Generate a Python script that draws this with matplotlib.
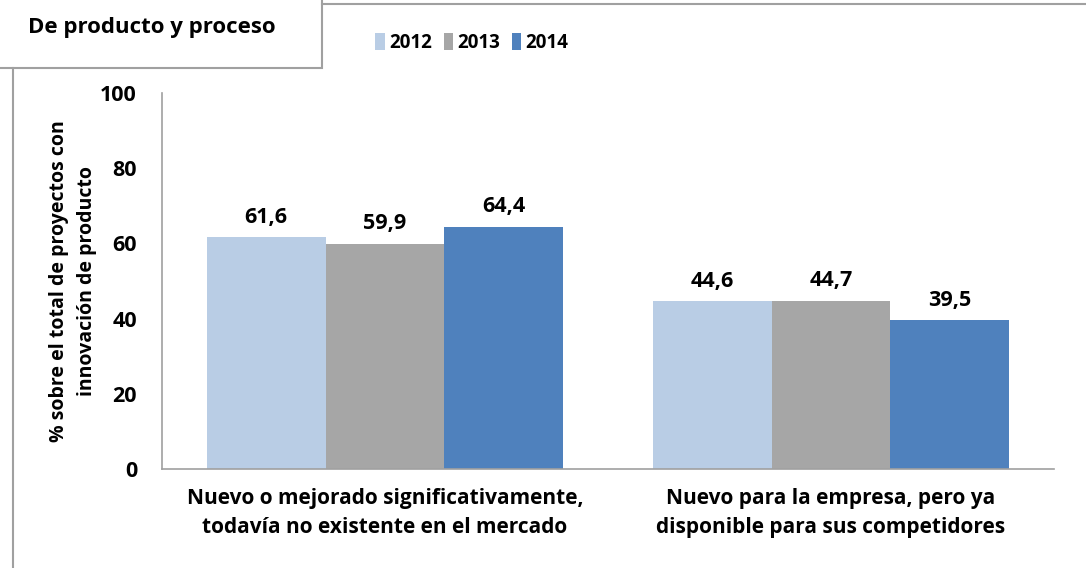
import numpy as np
import matplotlib.pyplot as plt
from matplotlib.patches import Rectangle
from matplotlib.lines import Line2D

categories = ['Nuevo o mejorado significativamente,\ntodavía no existente en el mercado',
              'Nuevo para la empresa, pero ya\ndisponible para sus competidores']
years = ['2012', '2013', '2014']
v2012 = [61.6, 44.6]
v2013 = [59.9, 44.7]
v2014 = [64.4, 39.5]
colors = ['#b9cde5', '#a6a6a6', '#4f81bd']

plt.rcParams['font.family'] = ['Open Sans', 'DejaVu Sans']
plt.rcParams['font.weight'] = 'bold'

fig = plt.figure(figsize=(10.86, 5.68), dpi=100)
ax = fig.add_axes([162/1086, 1-469/568, (1054-162)/1086, (469-93)/568])

x = np.arange(len(categories))
w = 0.8/3
for i, (vals, yr, c) in enumerate(zip([v2012, v2013, v2014], years, colors)):
    bars = ax.bar(x + (i-1)*w, vals, w, color=c, label=yr)
    for b, v in zip(bars, vals):
        ax.annotate(('%.1f' % v).replace('.', ','), (b.get_x()+b.get_width()/2, v),
                    xytext=(0, 7), textcoords='offset points', ha='center', va='bottom',
                    fontsize=15.5, fontweight='bold')

ax.set_xlim(-0.5, 1.5)
ax.set_ylim(0, 100)
ax.set_yticks([0, 20, 40, 60, 80, 100])
ax.set_xticks(x)
ax.set_xticklabels(categories, fontsize=15, fontweight='bold', linespacing=1.45)
ax.tick_params(axis='both', length=0, labelsize=15.5, pad=18)
ax.tick_params(axis='x', labelsize=15, pad=14)
for s in ['top', 'right']:
    ax.spines[s].set_visible(False)
for s in ['left', 'bottom']:
    ax.spines[s].set_color('#a0a0a0')
    ax.spines[s].set_linewidth(1.2)
ax.set_ylabel('% sobre el total de proyectos con\ninnovación de producto', fontsize=14,
              fontweight='bold', linespacing=1.55)
ax.yaxis.set_label_coords(-0.073, 0.50)

leg = ax.legend(loc='center', bbox_to_anchor=(472/1086, 1-43/568), bbox_transform=fig.transFigure,
                ncol=3, frameon=False, fontsize=13.5, handlelength=0.5, handleheight=1.0,
                handletextpad=0.25, columnspacing=0.6)

# title box and border lines
fig.add_artist(Rectangle((-0.01, 1-68/568), 322/1086+0.01, 68/568+0.01, transform=fig.transFigure,
                         fill=False, edgecolor='#a0a0a0', linewidth=1.5))
fig.add_artist(Line2D([322/1086, 1], [1-4/568, 1-4/568], transform=fig.transFigure,
                      color='#a0a0a0', linewidth=1.5))
fig.add_artist(Line2D([13/1086, 13/1086], [0, 1-68/568], transform=fig.transFigure,
                      color='#a0a0a0', linewidth=1.5))
fig.text(152/1086, 1-27/568, 'De producto y proceso', ha='center', va='center',
         fontsize=16, fontweight='bold')

fig.savefig('out.png', dpi=100)
